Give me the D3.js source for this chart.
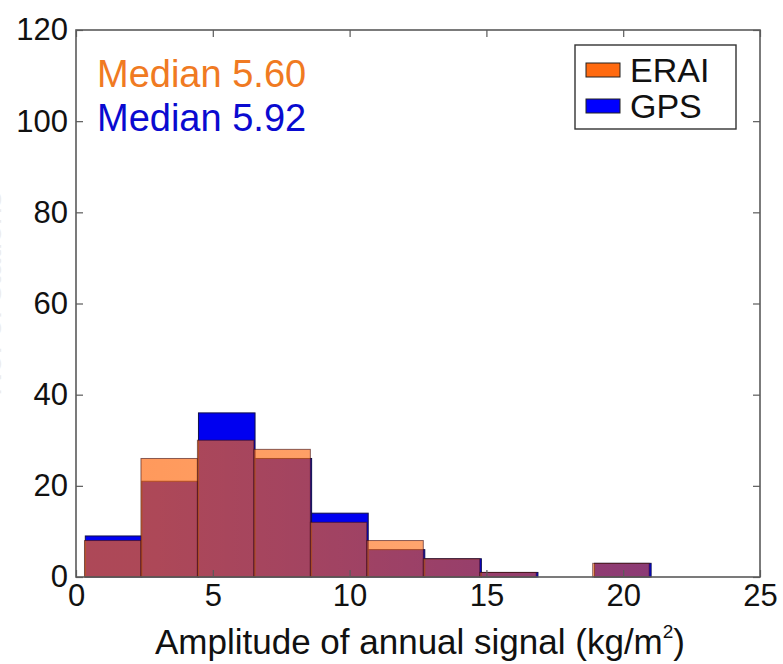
<!DOCTYPE html>
<html>
<head>
<meta charset="utf-8">
<script src="https://cdn.jsdelivr.net/npm/d3@7"></script>
<style>
  body { margin: 0; background: #fff; }
  svg { display: block; font-family: 'Liberation Sans', Arial, sans-serif; }
</style>
</head>
<body>
<svg id="chart"></svg>
<script>
// histogram counts per bin (10 bins)
const erai = [8, 26, 30, 28, 12, 8, 4, 1, 0, 3];
const gps = [9, 21, 36, 26, 14, 6, 4, 1, 0, 3];
// bin layout: first edge and bin width (kg/m^2)
const eraiBins = { start: 0.31, width: 2.064 };
const gpsBins = { start: 0.34, width: 2.068 };
const xTicks = [0, 5, 10, 15, 20, 25];
const yTicks = [0, 20, 40, 60, 80, 100, 120];
const medians = [
  { label: 'Median 5.60', color: '#f07a22' },
  { label: 'Median 5.92', color: '#0a0ad0' },
];
const legendItems = [
  { label: 'ERAI', color: '#ff6a10' },
  { label: 'GPS', color: '#0000ff' },
];

const W = 783;
const H = 664;
const margin = { top: 30, right: 23, bottom: 87, left: 76 };
const width = W - margin.left - margin.right;
const height = H - margin.top - margin.bottom;

const svgEl = d3.select('#chart').attr('width', W).attr('height', H);

// y label: almost entirely cut off at the left edge in the source image
svgEl
  .append('text')
  .attr('transform', `translate(1, ${margin.top + height / 2 - 10}) rotate(-90)`)
  .attr('text-anchor', 'middle')
  .attr('font-size', 32)
  .attr('fill', '#ececec')
  .text('No. of stations');

const defs = svgEl.append('defs');
const grad = defs
  .append('linearGradient')
  .attr('id', 'eraiFill')
  .attr('gradientUnits', 'userSpaceOnUse')
  .attr('x1', margin.left)
  .attr('x2', margin.left + width)
  .attr('y1', 0)
  .attr('y2', 0);
grad.append('stop').attr('offset', 0).attr('stop-color', '#ff6a10').attr('stop-opacity', 0.68);
grad.append('stop').attr('offset', 1).attr('stop-color', '#ff6a10').attr('stop-opacity', 0.5);

const svg = svgEl
  .append('g')
  .attr('transform', `translate(${margin.left},${margin.top})`);

const x = d3.scaleLinear().domain([0, 25]).range([0, width]);
const y = d3.scaleLinear().domain([0, 120]).range([height, 0]);

function toBars(counts, bins) {
  return counts.map((c, i) => ({
    x0: bins.start + i * bins.width,
    x1: bins.start + (i + 1) * bins.width,
    count: c,
  }));
}

// GPS drawn first, opaque
svg
  .append('g')
  .selectAll('rect')
  .data(toBars(gps, gpsBins).filter((d) => d.count > 0))
  .join('rect')
  .attr('x', (d) => x(d.x0))
  .attr('y', (d) => y(d.count))
  .attr('width', (d) => x(d.x1) - x(d.x0))
  .attr('height', (d) => y(0) - y(d.count))
  .attr('fill', '#0000f0')
  .attr('stroke', '#10104a')
  .attr('stroke-width', 1);

// ERAI translucent on top
svg
  .append('g')
  .selectAll('rect')
  .data(toBars(erai, eraiBins).filter((d) => d.count > 0))
  .join('rect')
  .attr('x', (d) => x(d.x0))
  .attr('y', (d) => y(d.count))
  .attr('width', (d) => x(d.x1) - x(d.x0))
  .attr('height', (d) => y(0) - y(d.count))
  .attr('fill', 'url(#eraiFill)')
  .attr('stroke', '#3a0a10')
  .attr('stroke-opacity', 0.6)
  .attr('stroke-width', 1);

// axes, ticks inward on all four sides
const axisColor = '#5a5a5a';
const tickLen = 7;

function styleAxis(g) {
  g.select('.domain').remove();
  g.selectAll('.tick line').attr('stroke', axisColor).attr('stroke-width', 1.2);
  g.selectAll('.tick text')
    .attr('fill', '#111')
    .attr('font-size', 31)
    .attr('font-family', "'Liberation Sans', Arial, sans-serif");
}

svg
  .append('g')
  .attr('transform', `translate(0,${height})`)
  .call(d3.axisBottom(x).tickValues(xTicks).tickSize(-tickLen).tickPadding(0).tickFormat(d3.format('d')))
  .call(styleAxis)
  .call((g) => g.selectAll('.tick text').attr('dy', '0.95em'));

svg
  .append('g')
  .call(d3.axisTop(x).tickValues(xTicks).tickSize(-tickLen).tickFormat(''))
  .call(styleAxis);

svg
  .append('g')
  .call(d3.axisLeft(y).tickValues(yTicks).tickSize(-tickLen).tickPadding(8).tickFormat(d3.format('d')))
  .call(styleAxis);

svg
  .append('g')
  .attr('transform', `translate(${width},0)`)
  .call(d3.axisRight(y).tickValues(yTicks).tickSize(-tickLen).tickFormat(''))
  .call(styleAxis);

svg
  .append('rect')
  .attr('width', width)
  .attr('height', height)
  .attr('fill', 'none')
  .attr('stroke', axisColor)
  .attr('stroke-width', 1.6);

// x label
const xlab = svgEl
  .append('text')
  .attr('x', margin.left + width / 2 + 2)
  .attr('y', 654)
  .attr('text-anchor', 'middle')
  .attr('font-size', 35)
  .attr('fill', '#111');
xlab.append('tspan').text('Amplitude of annual signal (kg/m');
xlab.append('tspan').attr('font-size', 19).attr('dy', -16).text('2');
xlab.append('tspan').attr('dy', 16).text(')');

// median annotations
svg
  .selectAll('.median')
  .data(medians)
  .join('text')
  .attr('class', 'median')
  .attr('x', 21)
  .attr('y', (d, i) => 57 + i * 44)
  .attr('font-size', 38)
  .attr('fill', (d) => d.color)
  .text((d) => d.label);

// legend
const lg = svg.append('g').attr('transform', `translate(${575 - margin.left},${45 - margin.top})`);
lg.append('rect')
  .attr('width', 161)
  .attr('height', 84)
  .attr('fill', '#fff')
  .attr('stroke', '#333')
  .attr('stroke-width', 1.4);
const li = lg
  .selectAll('.item')
  .data(legendItems)
  .join('g')
  .attr('transform', (d, i) => `translate(11,${18 + i * 36})`);
li.append('rect')
  .attr('width', 34)
  .attr('height', 14)
  .attr('fill', (d) => d.color)
  .attr('stroke', '#222')
  .attr('stroke-width', 1);
li.append('text')
  .attr('x', 44)
  .attr('y', 19)
  .attr('font-size', 34)
  .attr('fill', '#111')
  .text((d) => d.label);
</script>
</body>
</html>
